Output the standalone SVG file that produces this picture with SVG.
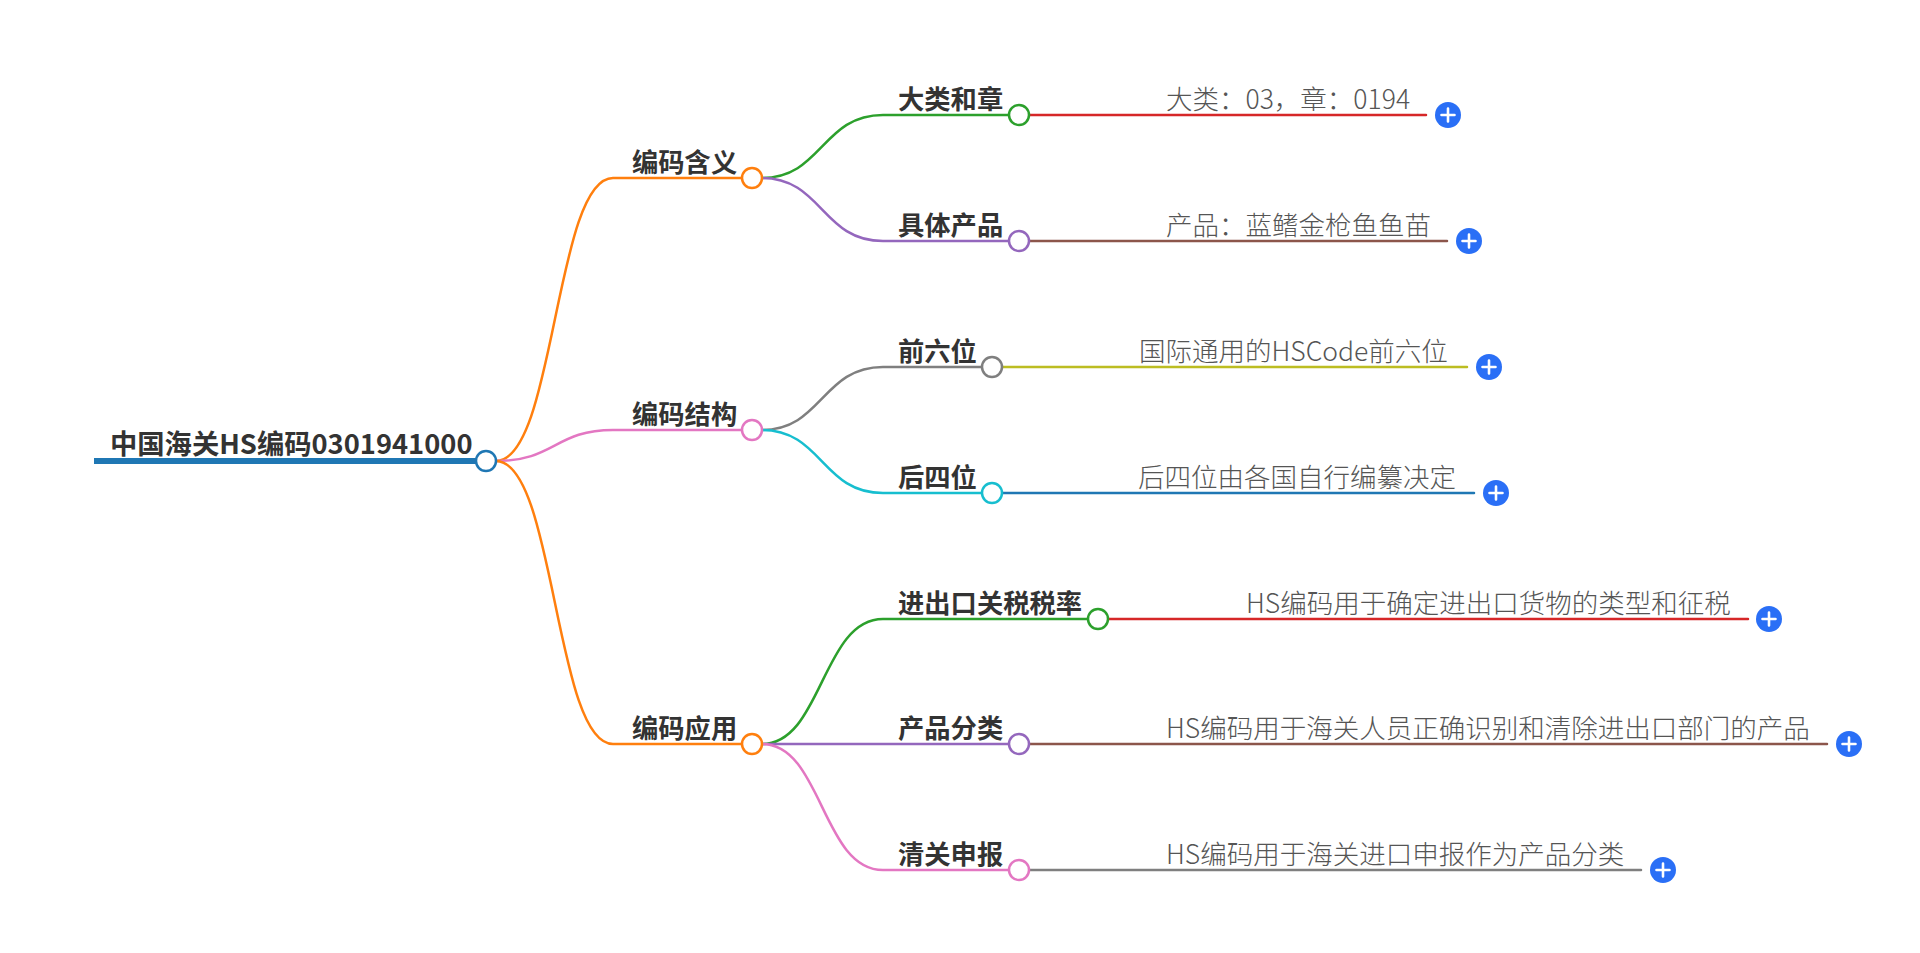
<svg xmlns="http://www.w3.org/2000/svg" width="1920" height="953" viewBox="0 0 1920 953">
<style>
.c{fill:none;stroke-width:2.5;stroke-linecap:round}
.rt{stroke-width:6;stroke-linecap:butt}
.n{fill:#fff;stroke-width:2.5}
.b{font-family:"Noto Sans CJK SC","Noto Sans",sans-serif;font-weight:700;font-size:26.3px;fill:#333}
.r{font-size:27.3px}
.l{font-family:"Noto Sans CJK SC","Noto Sans",sans-serif;font-weight:300;font-size:26.5px;fill:#555}
.p circle{fill:#2a6ff6}
.p path{stroke:#fff;stroke-width:2.6;stroke-linecap:round;fill:none}
</style>
<rect width="1920" height="953" fill="#fff"/>
<g id="connectors">
<path class="c rt" stroke="#1f77b4" d="M94,461 L477,461"/>
<path class="c" stroke="#ff7f0e" d="M496,461 C555,461 555,178 613,178 L742,178"/>
<path class="c" stroke="#e377c2" d="M496,461 C555,461 555,430 613,430 L742,430"/>
<path class="c" stroke="#ff7f0e" d="M496,461 C555,461 555,744 613,744 L742,744"/>
<path class="c" stroke="#2ca02c" d="M762,178 C822,178 822,115 883,115 L1009,115"/>
<path class="c" stroke="#9467bd" d="M762,178 C822,178 822,241 883,241 L1009,241"/>
<path class="c" stroke="#7f7f7f" d="M762,430 C822,430 822,367 883,367 L982,367"/>
<path class="c" stroke="#17becf" d="M762,430 C822,430 822,493 883,493 L982,493"/>
<path class="c" stroke="#2ca02c" d="M762,744 C822,744 822,619 883,619 L1088,619"/>
<path class="c" stroke="#9467bd" d="M762,744 L1009,744"/>
<path class="c" stroke="#e377c2" d="M762,744 C822,744 822,870 883,870 L1009,870"/>
<path class="c" stroke="#d62728" d="M1029,115 L1426,115"/>
<path class="c" stroke="#8c564b" d="M1029,241 L1447,241"/>
<path class="c" stroke="#bcbd22" d="M1002,367 L1467,367"/>
<path class="c" stroke="#1f77b4" d="M1002,493 L1474,493"/>
<path class="c" stroke="#d62728" d="M1108,619 L1748,619"/>
<path class="c" stroke="#8c564b" d="M1029,744 L1827,744"/>
<path class="c" stroke="#7f7f7f" d="M1029,870 L1641,870"/>
</g>
<g id="root"><text class="b r" x="110" y="454">中国海关HS编码0301941000</text><circle class="n" stroke="#1f77b4" cx="486" cy="461" r="10"/></g>
<g id="n1"><text class="b" x="632" y="172">编码含义</text><circle class="n" stroke="#ff7f0e" cx="752" cy="178" r="10"/></g>
<g id="n2"><text class="b" x="632" y="424">编码结构</text><circle class="n" stroke="#e377c2" cx="752" cy="430" r="10"/></g>
<g id="n3"><text class="b" x="632" y="738">编码应用</text><circle class="n" stroke="#ff7f0e" cx="752" cy="744" r="10"/></g>
<g id="n11"><text class="b" x="898" y="109">大类和章</text><circle class="n" stroke="#2ca02c" cx="1019" cy="115" r="10"/></g>
<g id="n12"><text class="b" x="898" y="235">具体产品</text><circle class="n" stroke="#9467bd" cx="1019" cy="241" r="10"/></g>
<g id="n21"><text class="b" x="898" y="361">前六位</text><circle class="n" stroke="#7f7f7f" cx="992" cy="367" r="10"/></g>
<g id="n22"><text class="b" x="898" y="487">后四位</text><circle class="n" stroke="#17becf" cx="992" cy="493" r="10"/></g>
<g id="n31"><text class="b" x="898" y="613">进出口关税税率</text><circle class="n" stroke="#2ca02c" cx="1098" cy="619" r="10"/></g>
<g id="n32"><text class="b" x="898" y="738">产品分类</text><circle class="n" stroke="#9467bd" cx="1019" cy="744" r="10"/></g>
<g id="n33"><text class="b" x="898" y="864">清关申报</text><circle class="n" stroke="#e377c2" cx="1019" cy="870" r="10"/></g>
<g id="l11"><text class="l" x="1166" y="109">大类：03，章：0194</text><g class="p"><circle cx="1448" cy="115" r="13"/><path d="M1441.5,115 H1454.5 M1448,108.5 V121.5"/></g></g>
<g id="l12"><text class="l" x="1166" y="235">产品：蓝鳍金枪鱼鱼苗</text><g class="p"><circle cx="1469" cy="241" r="13"/><path d="M1462.5,241 H1475.5 M1469,234.5 V247.5"/></g></g>
<g id="l21"><text class="l" x="1139" y="361">国际通用的HSCode前六位</text><g class="p"><circle cx="1489" cy="367" r="13"/><path d="M1482.5,367 H1495.5 M1489,360.5 V373.5"/></g></g>
<g id="l22"><text class="l" x="1138" y="487">后四位由各国自行编纂决定</text><g class="p"><circle cx="1496" cy="493" r="13"/><path d="M1489.5,493 H1502.5 M1496,486.5 V499.5"/></g></g>
<g id="l31"><text class="l" x="1246" y="613">HS编码用于确定进出口货物的类型和征税</text><g class="p"><circle cx="1769" cy="619" r="13"/><path d="M1762.5,619 H1775.5 M1769,612.5 V625.5"/></g></g>
<g id="l32"><text class="l" x="1166" y="738">HS编码用于海关人员正确识别和清除进出口部门的产品</text><g class="p"><circle cx="1849" cy="744" r="13"/><path d="M1842.5,744 H1855.5 M1849,737.5 V750.5"/></g></g>
<g id="l33"><text class="l" x="1166" y="864">HS编码用于海关进口申报作为产品分类</text><g class="p"><circle cx="1663" cy="870" r="13"/><path d="M1656.5,870 H1669.5 M1663,863.5 V876.5"/></g></g>
</svg>
